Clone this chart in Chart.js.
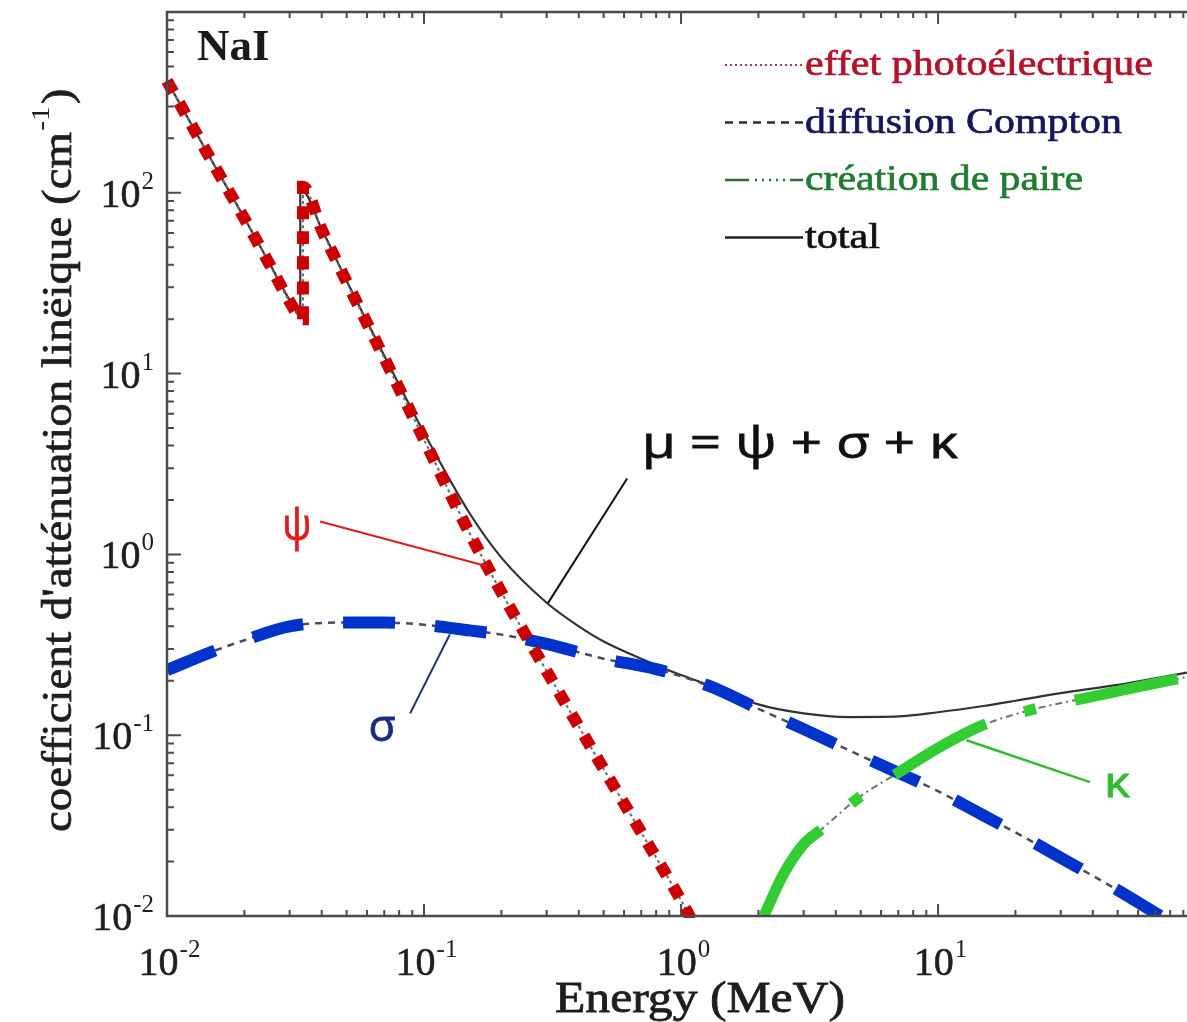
<!DOCTYPE html>
<html>
<head>
<meta charset="utf-8">
<script src="https://cdn.jsdelivr.net/npm/chart.js@4.4.1/dist/chart.umd.min.js"></script>
<style>
  html, body { margin: 0; background: #fff; }
  canvas { display: block; }
</style>
</head>
<body>
<canvas id="chart" width="1187" height="1022"></canvas>
<script>
// ── Data ─────────────────────────────────────────────────────
const energyPhoto = [0.01, 0.015, 0.02, 0.025, 0.03, 0.0338, 0.0338, 0.04, 0.05, 0.07, 0.1, 0.15, 0.2, 0.3, 0.5, 0.7, 1.0, 1.1];
const muPhoto     = [416, 148, 72, 40.5, 25, 20, 108, 62.5, 32.2, 12.2, 4.32, 1.32, 0.617, 0.226, 0.065, 0.029, 0.0122, 0.0095];

const energyCompton = [0.01, 0.015, 0.02, 0.03, 0.05, 0.07, 0.1, 0.15, 0.2, 0.3, 0.5, 0.8, 1.3, 2, 3, 5, 7, 10, 15, 20, 30, 50, 75];
const muCompton     = [0.229, 0.29, 0.335, 0.40, 0.42, 0.42, 0.408, 0.38, 0.36, 0.32, 0.265, 0.232, 0.186, 0.14, 0.108, 0.077, 0.062, 0.049, 0.036, 0.029, 0.021, 0.0139, 0.0098];

const energyPair = [2.1, 2.5, 3, 3.5, 5, 7, 10, 15, 23, 37, 60, 93];
const muPair     = [0.0100, 0.017, 0.025, 0.030, 0.046, 0.062, 0.085, 0.114, 0.138, 0.160, 0.185, 0.21];

const energyTotal = [0.01, 0.015, 0.02, 0.025, 0.03, 0.033, 0.033, 0.04, 0.05, 0.07, 0.1, 0.15, 0.2, 0.3, 0.4, 0.5, 0.7, 1.0, 1.5, 2, 3, 4.5, 7, 10, 15, 20, 30, 50, 93];
const muTotal     = [416, 149, 72.5, 41, 25.5, 21, 106, 63, 32.6, 12.6, 4.7, 1.7, 0.96, 0.54, 0.40, 0.33, 0.265, 0.215, 0.175, 0.148, 0.132, 0.126, 0.127, 0.134, 0.145, 0.155, 0.171, 0.19, 0.222];

const xTickExps = [-2, -1, 0, 1];
const yTickExps = [-2, -1, 0, 1, 2];
const legendLabels = ["effet photoélectrique", "diffusion Compton", "création de paire", "total"];

// ── Helpers ──────────────────────────────────────────────────
const SERIF = '"Liberation Serif", "DejaVu Serif", serif';
const SANS = '"Open Sans", "DejaVu Sans", sans-serif';
const pts = (xs, ys) => xs.map((x, i) => ({ x, y: ys[i] }));

const line = (data, color, width, dash, order, extra = {}) => ({
  data,
  borderColor: color,
  borderWidth: width,
  borderDash: dash,
  borderCapStyle: "butt",
  pointRadius: 0,
  fill: false,
  cubicInterpolationMode: "monotone",
  order,
  ...extra,
});

// draw text squeezed/stretched to a target width (optional faint stroke for weight)
function fitText(ctx, text, x, y, width, font, align = "left", weight = 0) {
  ctx.font = font;
  const w = ctx.measureText(text).width;
  const sx = width / w;
  ctx.save();
  ctx.translate(align === "center" ? x - width / 2 : x, y);
  ctx.scale(sx, 1);
  ctx.textAlign = "left";
  ctx.fillText(text, 0, 0);
  if (weight) {
    ctx.lineWidth = weight;
    ctx.strokeStyle = ctx.fillStyle;
    ctx.strokeText(text, 0, 0);
  }
  ctx.restore();
}

// "10" with a superscript exponent
function powLabel(ctx, exp, x, baseY, anchor) {
  const e = String(exp);
  ctx.font = `40px ${SERIF}`;
  const wb = ctx.measureText("10").width;
  ctx.font = `25px ${SERIF}`;
  const we = ctx.measureText(e).width;
  const x0 = anchor === "center" ? x - (wb + we) / 2 : x - wb - we;
  ctx.textAlign = "left";
  ctx.textBaseline = "alphabetic";
  ctx.fillStyle = "#1e1e1e";
  ctx.strokeStyle = "#1e1e1e";
  ctx.lineWidth = 0.6;
  ctx.font = `40px ${SERIF}`;
  ctx.fillText("10", x0, baseY);
  ctx.strokeText("10", x0, baseY);
  ctx.font = `25px ${SERIF}`;
  ctx.fillText(e, x0 + wb + 1, baseY - 18);
}

// ── Annotations placed in data space ─────────────────────────
const notes = [
  { text: "μ = ψ + σ + κ", color: "#111", at: [2.9, 4.0], width: 316, size: 44, from: [0.617, 2.63], to: [0.303, 0.536], lw: 2 },
  { text: "ψ", color: "#dd1c1c", at: [0.032, 1.41], width: 29, size: 44, from: [0.0394, 1.52], to: [0.176, 0.86], lw: 2 },
  { text: "σ", color: "#1c2a80", at: [0.0687, 0.109], width: 27, size: 44, from: [0.0883, 0.132], to: [0.126, 0.361], lw: 2 },
  { text: "κ", color: "#33bb33", at: [49.7, 0.053], width: 26, size: 42, from: [12.9, 0.0938], to: [39, 0.055], lw: 2.5 },
];

const decor = {
  id: "decor",
  afterDraw(chart) {
    const { ctx, chartArea: a, scales: { x, y } } = chart;
    ctx.save();

    // frame (no right edge, it runs off the picture)
    ctx.strokeStyle = "#4a4a4a";
    ctx.lineWidth = 2.5;
    ctx.beginPath();
    ctx.moveTo(a.right + 2, a.top);
    ctx.lineTo(a.left, a.top);
    ctx.lineTo(a.left, a.bottom);
    ctx.lineTo(a.right + 2, a.bottom);
    ctx.stroke();

    // inward ticks
    ctx.lineWidth = 2;
    ctx.beginPath();
    for (let d = -2; d <= 2; d++) {
      for (let m = 1; m <= 9; m++) {
        const v = m * Math.pow(10, d);
        if (v > x.max) break;
        const px = x.getPixelForValue(v);
        const len = m === 1 ? 12 : 6;
        ctx.moveTo(px, a.bottom); ctx.lineTo(px, a.bottom - len);
        ctx.moveTo(px, a.top); ctx.lineTo(px, a.top + len);
      }
    }
    for (let d = -2; d <= 3; d++) {
      for (let m = 1; m <= 9; m++) {
        const v = m * Math.pow(10, d);
        if (v > y.max) break;
        const py = y.getPixelForValue(v);
        const len = m === 1 ? 14 : 7;
        ctx.moveTo(a.left, py); ctx.lineTo(a.left + len, py);
      }
    }
    ctx.stroke();

    // tick labels
    xTickExps.forEach((e) => powLabel(ctx, e, x.getPixelForValue(Math.pow(10, e)) + 2, a.bottom + 59, "center"));
    yTickExps.forEach((e) => powLabel(ctx, e, 153, y.getPixelForValue(Math.pow(10, e)) + 14, "right"));

    // axis titles
    ctx.fillStyle = "#1e1e1e";
    ctx.textBaseline = "alphabetic";
    fitText(ctx, "Energy (MeV)", 700, 1012, 290, `44px ${SERIF}`, "center", 0.8);

    ctx.save();
    ctx.translate(71, 832);
    ctx.rotate(-Math.PI / 2);
    ctx.strokeStyle = "#1e1e1e";
    ctx.lineWidth = 0.7;
    const main = "coefficient d'atténuation linëique (cm";
    ctx.font = `42px ${SERIF}`;
    const wm = ctx.measureText(main).width;
    ctx.font = `26px ${SERIF}`;
    const ws = ctx.measureText("-1").width;
    ctx.font = `42px ${SERIF}`;
    const wc = ctx.measureText(")").width;
    const k = 740 / (wm + ws + wc);
    ctx.scale(k, 1);
    ctx.fillText(main, 0, 0);
    ctx.strokeText(main, 0, 0);
    ctx.font = `26px ${SERIF}`;
    ctx.fillText("-1", wm + 1, -22);
    ctx.font = `42px ${SERIF}`;
    ctx.fillText(")", wm + ws + 3, 0);
    ctx.strokeText(")", wm + ws + 3, 0);
    ctx.restore();

    // material label
    ctx.fillStyle = "#1a1a1a";
    ctx.font = `bold 45px ${SERIF}`;
    ctx.textAlign = "left";
    ctx.fillText("NaI", 197, 60);

    // legend
    const rows = [
      { color: "#b3122b", sample: "#a04040", dash: [2, 3], w: 2 },
      { color: "#16165e", sample: "#2a2a40", dash: [8, 6], w: 2.5 },
      { color: "#1e7d32", sample: "#2f6a3c", dash: [24, 6, 2, 5, 2, 5, 2, 5, 2, 5, 2, 5], w: 2.5 },
      { color: "#111111", sample: "#222222", dash: [], w: 2.5 },
    ];
    const legendWidths = [348, 317, 278, 75];
    legendLabels.forEach((label, i) => {
      const base = 75 + i * 57.5;
      const r = rows[i];
      ctx.strokeStyle = r.sample;
      ctx.lineWidth = r.w;
      ctx.setLineDash(r.dash);
      ctx.beginPath();
      ctx.moveTo(725, base - 10);
      ctx.lineTo(803, base - 10);
      ctx.stroke();
      ctx.setLineDash([]);
      ctx.fillStyle = r.color;
      fitText(ctx, label, 805, base, legendWidths[i], `36px ${SERIF}`, "left", 0.7);
    });

    // annotations with leader lines
    notes.forEach((n) => {
      ctx.strokeStyle = n.color;
      ctx.lineWidth = n.lw;
      ctx.beginPath();
      ctx.moveTo(x.getPixelForValue(n.from[0]), y.getPixelForValue(n.from[1]));
      ctx.lineTo(x.getPixelForValue(n.to[0]), y.getPixelForValue(n.to[1]));
      ctx.stroke();
      ctx.fillStyle = n.color;
      ctx.textBaseline = "middle";
      fitText(ctx, n.text, x.getPixelForValue(n.at[0]), y.getPixelForValue(n.at[1]), n.width, `${n.size}px ${SANS}`, "center", 0.8);
    });

    ctx.restore();
  },
};

// ── Chart ────────────────────────────────────────────────────
const photo = pts(energyPhoto, muPhoto);
const compton = pts(energyCompton, muCompton);
const pair = pts(energyPair, muPair);
const total = pts(energyTotal, muTotal);

new Chart(document.getElementById("chart").getContext("2d"), {
  type: "line",
  data: {
    datasets: [
      line(photo, "#cc0000", 12, [13, 12], 1, { clip: { left: 7, top: 0, right: 0, bottom: 2 } }),
      line(pair, "#33cc33", 11, [105, 40, 12, 40], 2),
      line(compton, "#0033cc", 12, [52, 40], 3),
      line(photo, "#6a6a6a", 2, [3, 3], 4),
      line(compton, "#4a4a66", 2.5, [7, 6], 4),
      line(pair, "#667766", 2, [7, 4, 2, 4], 4),
      line(total, "#333333", 2.2, [], 5),
    ],
  },
  options: {
    responsive: false,
    animation: false,
    devicePixelRatio: 1,
    layout: { padding: { left: 167, top: 12, right: 0, bottom: 106 } },
    plugins: { legend: { display: false }, tooltip: { enabled: false } },
    scales: {
      x: { type: "logarithmic", min: 0.01, max: 93, display: false },
      y: { type: "logarithmic", min: 0.01, max: 1000, display: false },
    },
  },
  plugins: [decor],
});
</script>
</body>
</html>
